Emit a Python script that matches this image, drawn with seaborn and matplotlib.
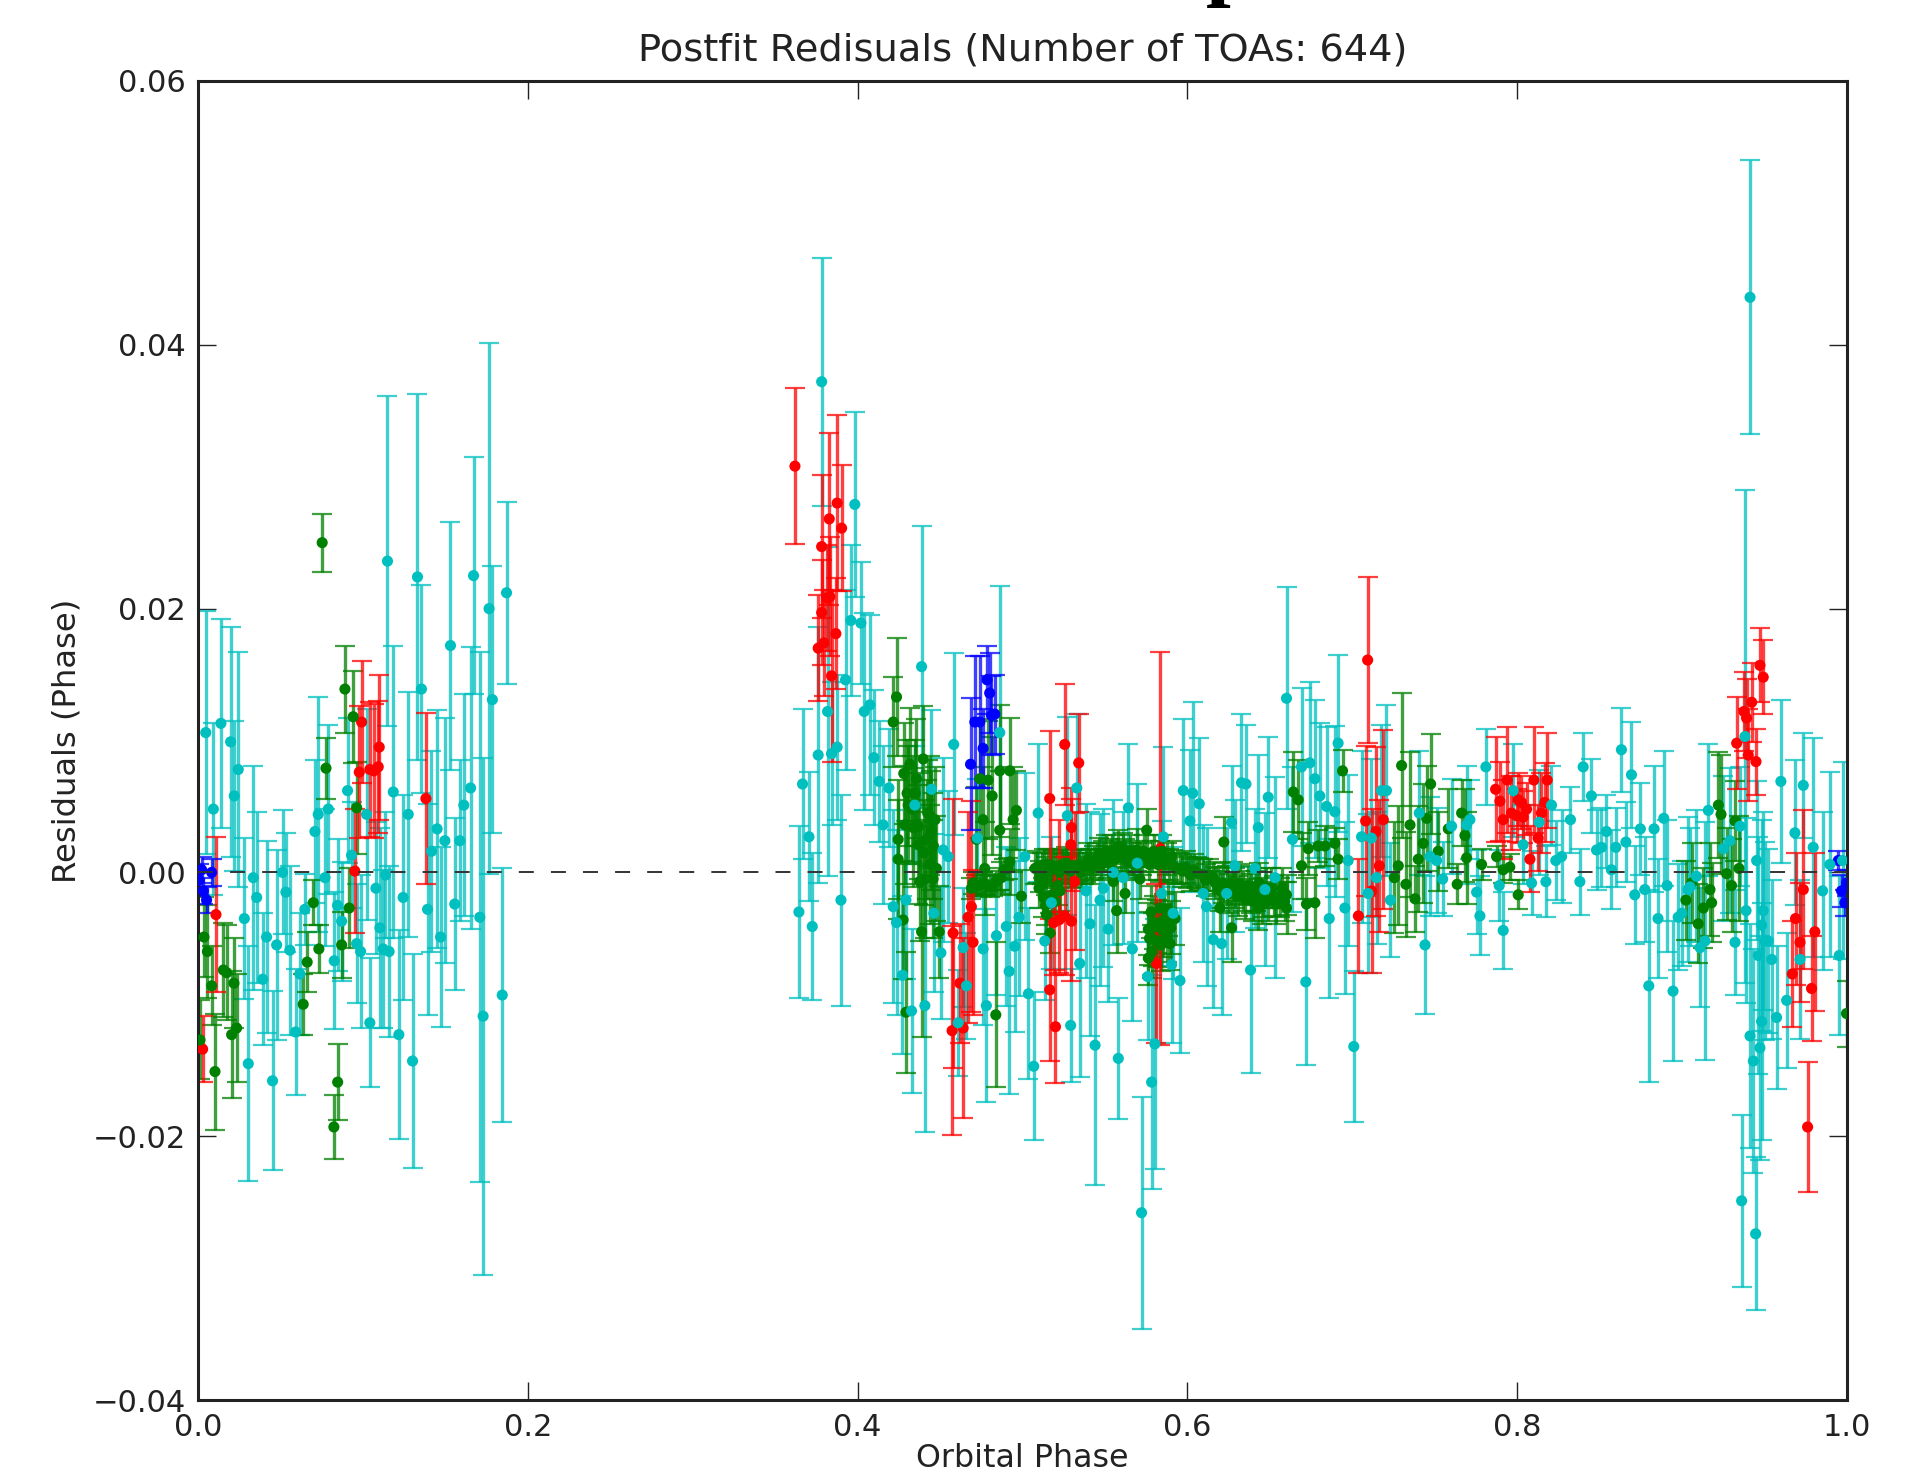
import pandas as pd
import matplotlib
matplotlib.use('Agg')
import matplotlib.pyplot as plt
import seaborn as sns

# values: (orbital phase, residual, error)
cyan_points = [
    (.0047,.0106,.0092),(.0139,.0113,.0079),(.0198,.0099,.0087),(.0244,.0078,.0089),(.0220,.0058,.0057),
    (.0093,.0048,.0065),(.0335,-.0004,.0085),(.0356,-.0019,.0065),(.0281,-.0035,.0061),(.0416,-.0049,.0073),
    (.0477,-.0055,.0072),(.0513,.0000,.0047),(.0533,-.0015,.0045),(.0392,-.0081,.0050),(.0452,-.0158,.0068),
    (.0305,-.0145,.0089),(.0557,-.0059,.0064),(.0648,-.0028,.0027),(.0618,-.0077,.0046),(.0592,-.0121,.0048),
    (.0709,.0031,.0054),(.0729,.0044,.0089),(.0790,.0048,.0064),(.0770,-.0004,.0052),(.0846,-.0025,.0050),
    (.0871,-.0037,.0045),(.0826,-.0067,.0052),(.0907,.0062,.0055),(.0931,.0013,.0040),(.0962,-.0054,.0045),
    (.0986,-.0060,.0058),(.1022,.0044,.0080),(.1079,-.0012,.0050),(.1103,-.0042,.0076),(.1042,-.0114,.0049),
    (.1123,-.0058,.0060),(.1159,-.0060,.0065),(.1137,-.0002,.0048),(.1149,.0236,.0125),(.1184,.0061,.0111),
    (.1244,-.0019,.0078),(.1218,-.0123,.0079),(.1275,.0044,.0093),(.1301,-.0143,.0081),(.1331,.0224,.0139),
    (.1355,.0139,.0079),(.1392,-.0028,.0080),(.1416,.0016,.0076),(.1450,.0033,.0090),(.1471,-.0049,.0068),
    (.1497,.0024,.0093),(.1531,.0172,.0094),(.1557,-.0024,.0065),(.1588,.0024,.0061),(.1612,.0051,.0084),
    (.1653,.0064,.0107),(.1671,.0225,.0090),(.1709,-.0034,.0201),(.1729,-.0109,.0196),(.1765,.0200,.0201),
    (.1785,.0131,.0101),(.1871,.0212,.0069),(.1845,-.0093,.0096),
    (.3782,.0372,.0094),(.3983,.0279,.0070),(.3666,.0067,.0057),(.3644,-.0030,.0065),(.3705,.0027,.0049),
    (.3725,-.0041,.0056),(.3761,.0089,.0097),(.3818,.0122,.0125),(.3842,.0090,.0054),(.3876,.0095,.0055),
    (.3899,-.0021,.0080),(.3927,.0146,.0068),(.3959,.0191,.0057),(.4020,.0189,.0046),(.4040,.0122,.0075),
    (.4074,.0127,.0068),(.4099,.0087,.0051),(.4131,.0069,.0046),(.4155,.0036,.0060),(.4190,.0064,.0045),
    (.4216,-.0026,.0073),(.4236,-.0038,.0070),(.4272,-.0078,.0060),(.4327,-.0105,.0062),(.4293,-.0021,.0060),
    (.4347,.0051,.0045),(.4388,.0156,.0107),(.4448,.0063,.0060),(.4408,-.0101,.0096),(.4462,-.0031,.0060),
    (.4505,-.0061,.0050),(.4519,.0017,.0070),(.4549,.0012,.0050),(.4583,.0097,.0069),(.4660,-.0086,.0040),
    (.4610,-.0114,.0040),(.4640,-.0057,.0045),(.4727,.0026,.0045),(.4761,-.0058,.0058),(.4781,-.0101,.0073),
    (.4842,-.0048,.0045),(.4862,.0106,.0111),(.4902,-.0041,.0060),(.4919,-.0075,.0093),(.4953,-.0056,.0065),
    (.4979,-.0034,.0060),(.5014,.0012,.0063),(.5036,-.0092,.0065),(.5068,-.0147,.0056),(.5095,.0045,.0052),
    (.5135,-.0052,.0045),(.5175,-.0023,.0050),(.5272,.0043,.0075),(.5292,-.0116,.0043),(.5329,.0064,.0056),
    (.5347,-.0069,.0086),(.5385,-.0014,.0066),(.5409,-.0039,.0085),(.5440,-.0131,.0106),(.5470,-.0021,.0065),
    (.5490,-.0012,.0060),(.5520,-.0043,.0055),(.5551,.0000,.0055),(.5581,-.0141,.0046),(.5611,-.0004,.0050),
    (.5642,.0049,.0048),(.5666,-.0058,.0055),(.5696,.0007,.0060),(.5722,-.0258,.0088),(.5759,-.0079,.0048),
    (.5783,-.0159,.0081),(.5803,-.0130,.0095),(.5844,-.0016,.0055),(.5854,.0027,.0068),(.5904,-.0070,.0059),
    (.5914,-.0031,.0050),(.5955,-.0082,.0055),(.5975,.0062,.0054),(.6032,.0060,.0069),(.6072,.0052,.0050),
    (.6015,.0039,.0054),(.6096,-.0016,.0052),(.6116,-.0026,.0060),(.6157,-.0051,.0052),(.6207,-.0054,.0054),
    (.6268,.0038,.0043),(.6238,-.0016,.0050),(.6288,.0005,.0050),(.6328,.0068,.0052),(.6355,.0067,.0045),
    (.6430,.0034,.0055),(.6383,-.0074,.0078),(.6409,.0003,.0045),(.6490,.0057,.0046),(.6470,-.0013,.0058),
    (.6531,-.0004,.0076),(.6601,.0132,.0084),(.6637,.0025,.0055),(.6692,.0080,.0060),(.6742,.0083,.0061),
    (.6773,.0071,.0060),(.6803,.0058,.0055),(.6718,-.0083,.0063),(.6844,.0050,.0060),(.6860,-.0035,.0060),
    (.6894,.0046,.0065),(.6914,.0098,.0067),(.6955,-.0027,.0065),(.6975,.0009,.0065),(.7009,-.0132,.0057),
    (.7056,.0027,.0065),(.7096,-.0016,.0060),(.7116,.0026,.0060),(.7147,-.0004,.0050),(.7177,.0062,.0050),
    (.7207,.0062,.0065),(.7231,-.0021,.0043),(.7406,.0045,.0047),(.7441,-.0055,.0052),(.7471,.0012,.0045),
    (.7511,.0009,.0040),(.7548,-.0005,.0028),(.7602,.0035,.0036),(.7693,.0036,.0045),(.7713,.0040,.0030),
    (.7754,-.0015,.0032),(.7774,-.0033,.0030),(.7810,.0080,.0029),(.7891,-.0010,.0027),(.7915,-.0044,.0029),
    (.7976,.0062,.0035),(.8036,.0021,.0030),(.8087,-.0008,.0024),(.8133,.0038,.0040),(.8174,-.0007,.0027),
    (.8208,.0051,.0030),(.8234,.0009,.0030),(.8269,.0012,.0035),(.8323,.0040,.0025),(.8380,-.0007,.0025),
    (.8400,.0080,.0026),(.8450,.0058,.0028),(.8481,.0017,.0030),(.8511,.0019,.0030),(.8541,.0031,.0028),
    (.8571,.0002,.0030),(.8598,.0019,.0030),(.8632,.0093,.0032),(.8659,.0023,.0030),(.8693,.0074,.0040),
    (.8713,-.0017,.0037),(.8747,.0033,.0035),(.8774,-.0013,.0040),(.8798,-.0086,.0073),(.8830,.0033,.0048),
    (.8854,-.0035,.0045),(.8889,.0041,.0051),(.8909,-.0010,.0050),(.8945,-.0090,.0053),(.8976,-.0034,.0040),
    (.8998,-.0031,.0040),(.9036,-.0013,.0055),(.9048,-.0011,.0045),(.9087,-.0003,.0050),(.9109,-.0057,.0045),
    (.9139,-.0052,.0090),(.9159,.0047,.0050),(.9250,.0018,.0055),(.9290,.0024,.0055),(.9321,-.0053,.0040),
    (.9351,.0035,.0045),(.9412,.0436,.0104),(.9381,.0103,.0187),(.9361,-.0249,.0065),(.9446,-.0274,.0058),
    (.9599,.0069,.0062),(.9735,.0066,.0040),(.9795,.0019,.0083),(.9715,-.0066,.0060),(.9634,-.0097,.0051),
    (.9573,-.0110,.0054),(.9684,.0030,.0055),(.9852,-.0014,.0060),(.9896,.0006,.0070),(.9953,-.0063,.0060),
    (.9973,.0009,.0075),(.9388,-.0029,.0070),(.9412,-.0124,.0085),(.9432,-.0143,.0085),(.9462,-.0063,.0090),
    (.9482,-.0113,.0090),(.9472,-.0133,.0085),(.9492,-.0029,.0075),(.9502,-.0052,.0075),(.9523,-.0052,.0070),
    (.9543,-.0066,.0060),(.9452,.0009,.0060),(.9482,-.0040,.0080),
]
green_points = [
    (.0753,.0250,.0022),(.0891,.0139,.0033),(.0776,.0079,.0023),(.0941,.0118,.0035),(.0962,.0049,.0035),
    (.0917,-.0027,.0030),(.0871,-.0055,.0025),(.0699,-.0023,.0017),(.0662,-.0068,.0023),(.0638,-.0100,.0023),
    (.0733,-.0058,.0018),(.0847,-.0159,.0029),(.0824,-.0193,.0024),(.0036,-.0049,.0030),(.0057,-.0060,.0035),
    (.0083,-.0086,.0030),(.0103,-.0151,.0044),(.0154,-.0074,.0036),(.0174,-.0076,.0036),(.0204,-.0123,.0048),
    (.0218,-.0084,.0034),(.0234,-.0118,.0041),(.0012,-.0127,.0030),
    (.4236,.0133,.0045),(.4216,.0114,.0034),(.4280,.0075,.0038),(.4317,.0082,.0043),(.4398,.0086,.0040),
    (.4286,.0036,.0045),(.4337,.0034,.0045),(.4307,.0051,.0045),(.4357,.0071,.0045),(.4438,.0043,.0045),
    (.4448,.0032,.0045),(.4418,.0025,.0045),(.4367,.0021,.0045),(.4438,.0006,.0045),(.4246,.0010,.0045),
    (.4246,.0025,.0045),(.4377,-.0007,.0045),(.4408,-.0005,.0045),(.4495,-.0045,.0035),(.4276,-.0036,.0045),
    (.4458,-.0005,.0045),(.4478,.0003,.0040),(.4293,-.0106,.0046),(.4388,-.0045,.0080),
    (.4771,.0003,.0035),(.4690,-.0012,.0008),(.4741,-.0010,.0008),(.4822,-.0010,.0008),(.4872,-.0004,.0012),
    (.4923,.0008,.0025),(.4741,.0071,.0045),(.4792,.0070,.0045),(.4816,.0058,.0045),(.4862,.0032,.0045),
    (.4862,.0077,.0050),(.4923,.0077,.0040),(.4963,.0047,.0030),(.4943,.0040,.0040),(.4993,-.0018,.0020),
    (.4838,-.0108,.0055),(.4721,.0025,.0040),(.4761,.0040,.0040),
    (.5076,.0003,.0012),(.5117,.0003,.0012),(.5157,.0006,.0012),(.5197,.0003,.0012),(.5238,.0006,.0012),
    (.5278,.0003,.0012),(.5329,.0003,.0012),(.5369,.0003,.0012),(.5409,.0006,.0012),(.5450,.0010,.0012),
    (.5490,.0012,.0012),(.5531,.0013,.0012),(.5581,.0020,.0012),(.5622,.0013,.0012),(.5662,.0010,.0012),
    (.5692,.0017,.0016),(.5753,.0032,.0016),(.5723,.0010,.0012),(.5783,.0012,.0012),(.5834,.0012,.0012),
    (.5874,.0010,.0012),(.5914,.0005,.0012),(.5955,.0003,.0012),(.6005,.0000,.0012),(.6056,.0000,.0012),
    (.6096,-.0002,.0012),(.6157,-.0004,.0012),(.6187,-.0012,.0015),(.6238,-.0010,.0015),(.6278,-.0007,.0015),
    (.6318,-.0009,.0015),(.6369,-.0010,.0015),(.6419,-.0014,.0015),(.6460,-.0019,.0015),(.6510,-.0012,.0015),
    (.6561,-.0019,.0015),(.6601,-.0017,.0015),(.6197,-.0027,.0018),(.6268,-.0042,.0026),(.6221,.0023,.0019),
    (.6430,-.0027,.0017),(.6601,-.0027,.0020),(.6642,.0061,.0030),(.6672,.0055,.0030),(.6692,.0005,.0025),
    (.6733,.0018,.0020),(.6793,.0020,.0012),(.6834,.0020,.0015),(.6894,.0022,.0012),(.6914,.0010,.0015),
    (.6722,-.0024,.0020),(.6773,-.0023,.0027),(.6941,.0077,.0016),
    (.5127,-.0019,.0015),(.5177,-.0017,.0015),(.5228,-.0014,.0015),(.5167,-.0046,.0015),(.5571,-.0029,.0032),
    (.5622,-.0016,.0015),(.5712,-.0005,.0015),(.5551,-.0007,.0015),(.5763,-.0043,.0020),(.5813,-.0041,.0020),
    (.5854,-.0044,.0020),(.5894,-.0054,.0020),(.5763,-.0065,.0020),(.5834,-.0027,.0020),(.5925,-.0035,.0020),
    (.5793,-.0051,.0020),
    (.7299,.0081,.0055),(.7475,.0067,.0038),(.7451,.0041,.0040),(.7350,.0036,.0055),(.7430,.0022,.0045),
    (.7400,.0010,.0040),(.7279,.0005,.0045),(.7255,-.0004,.0042),(.7325,-.0009,.0040),(.7380,-.0020,.0025),
    (.7521,.0016,.0030),(.7582,.0033,.0030),(.7663,.0045,.0025),(.7683,.0028,.0035),(.7693,.0011,.0035),
    (.7636,-.0009,.0015),(.7784,.0006,.0012),(.7875,.0012,.0008),(.7915,.0002,.0010),(.7955,.0004,.0010),
    (.8006,-.0017,.0011),(.9023,-.0021,.0030),(.9058,-.0008,.0030),(.9098,-.0039,.0030),(.9129,-.0027,.0030),
    (.9169,-.0013,.0035),(.9179,-.0023,.0030),(.9220,.0051,.0040),(.9236,.0044,.0045),(.9321,.0039,.0030),
    (.9345,.0003,.0040),(.9270,-.0001,.0035),(.9300,-.0010,.0035),(.9997,-.0107,.0025),
]
# the dense green band around the zero line, and the tight clumps next to it
green_band_points = [
    (.5090,.0004,.0012),(.5105,-.0003,.0012),(.5130,.0006,.0012),(.5145,.0000,.0012),(.5170,.0002,.0012),
    (.5185,.0005,.0012),(.5210,.0004,.0012),(.5225,.0000,.0012),(.5250,.0003,.0012),(.5265,.0007,.0012),
    (.5290,.0001,.0012),(.5305,.0005,.0012),(.5340,.0006,.0012),(.5355,.0000,.0012),(.5385,.0005,.0012),
    (.5400,.0010,.0012),(.5420,.0003,.0012),(.5435,.0008,.0012),(.5465,.0014,.0012),(.5478,.0006,.0012),
    (.5505,.0016,.0012),(.5520,.0008,.0012),(.5545,.0016,.0012),(.5560,.0010,.0012),(.5595,.0012,.0012),
    (.5610,.0018,.0012),(.5635,.0008,.0012),(.5650,.0016,.0012),(.5675,.0006,.0012),(.5705,.0012,.0012),
    (.5735,.0016,.0012),(.5770,.0006,.0012),(.5795,.0016,.0012),(.5820,.0006,.0012),(.5845,.0016,.0012),
    (.5860,.0006,.0012),(.5890,.0006,.0012),(.5905,.0012,.0012),(.5930,.0003,.0012),(.5970,.0001,.0012),
    (.5990,.0004,.0012),(.6020,-.0002,.0012),(.6040,.0002,.0012),(.6070,-.0001,.0012),(.6110,-.0006,.0012),
    (.6130,-.0002,.0012),(.6170,-.0008,.0012),(.6200,-.0014,.0015),(.6215,-.0008,.0015),(.6255,-.0016,.0015),
    (.6290,-.0012,.0015),(.6305,-.0018,.0015),(.6335,-.0014,.0015),(.6350,-.0020,.0015),(.6385,-.0016,.0015),
    (.6400,-.0022,.0015),(.6435,-.0008,.0015),(.6450,-.0024,.0015),(.6475,-.0012,.0015),(.6490,-.0022,.0015),
    (.6525,-.0018,.0015),(.6540,-.0024,.0015),(.6575,-.0012,.0015),(.6590,-.0022,.0015),
    (.5770,-.0050,.0020),(.5785,-.0060,.0020),(.5800,-.0038,.0020),(.5820,-.0052,.0020),(.5840,-.0055,.0020),
    (.5860,-.0036,.0020),(.5875,-.0048,.0020),(.5885,-.0028,.0020),(.5900,-.0042,.0020),(.5780,-.0030,.0020),
    (.5100,-.0012,.0015),(.5140,-.0025,.0015),(.5200,-.0022,.0015),(.5215,-.0010,.0015),(.5145,-.0032,.0015),
    (.4300,.0060,.0040),(.4330,.0048,.0040),(.4350,.0060,.0040),(.4370,.0035,.0040),(.4400,.0015,.0040),
    (.4425,.0045,.0040),(.4460,.0020,.0040),(.4470,.0040,.0040),
    (.4700,-.0008,.0008),(.4720,-.0010,.0008),(.4760,-.0008,.0008),(.4780,-.0009,.0008),(.4800,-.0011,.0008),
    (.4840,-.0007,.0008),(.4855,-.0005,.0008),(.4890,.0002,.0008),(.4910,.0003,.0008),
]
red_points = [
    (.0992,.0114,.0046),(.1099,.0095,.0055),(.1066,.0077,.0051),(.1042,.0078,.0051),(.1093,.0080,.0050),
    (.0978,.0076,.0050),(.0951,.0001,.0047),(.1382,.0056,.0065),(.0109,-.0032,.0059),(.0028,-.0134,.0025),
    (.3620,.0308,.0059),(.3782,.0247,.0054),(.3828,.0268,.0065),(.3876,.0280,.0067),(.3903,.0261,.0048),
    (.3761,.0170,.0040),(.3796,.0174,.0040),(.3782,.0197,.0040),(.3832,.0209,.0045),(.3868,.0181,.0042),
    (.3842,.0149,.0065),(.3812,.0208,.0040),(.4579,-.0046,.0102),(.4620,-.0084,.0045),(.4573,-.0120,.0079),
    (.4640,-.0118,.0068),(.4670,-.0034,.0080),(.4690,-.0026,.0080),(.4700,-.0053,.0055),
    (.5165,.0056,.0051),(.5256,.0097,.0046),(.5341,.0083,.0037),(.5297,.0034,.0030),(.5293,.0021,.0035),
    (.5222,.0005,.0035),(.5165,-.0089,.0054),(.5200,-.0117,.0043),(.5189,-.0038,.0040),(.5222,-.0036,.0040),
    (.5256,-.0033,.0045),(.5297,-.0037,.0045),(.5317,-.0007,.0052),(.5836,.0018,.0149),(.5812,-.0069,.0060),
    (.7093,.0161,.0063),(.7081,.0039,.0057),(.7144,.0031,.0064),(.7188,.0040,.0068),(.7164,.0005,.0050),
    (.7117,-.0014,.0062),(.7037,-.0033,.0043),(.7869,.0063,.0040),(.7939,.0070,.0040),(.8101,.0070,.0040),
    (.8182,.0070,.0036),(.7895,.0054,.0030),(.7915,.0040,.0030),(.7965,.0045,.0028),(.7996,.0043,.0020),
    (.8026,.0053,.0020),(.8057,.0048,.0020),(.8036,.0042,.0020),(.8006,.0055,.0020),(.8147,.0045,.0030),
    (.8167,.0053,.0030),(.8127,.0026,.0025),(.8077,.0010,.0025),
    (.9472,.0157,.0028),(.9492,.0148,.0028),(.9422,.0129,.0030),(.9391,.0117,.0030),(.9375,.0122,.0030),
    (.9331,.0098,.0035),(.9401,.0089,.0035),(.9448,.0084,.0025),(.9688,-.0035,.0050),(.9668,-.0077,.0040),
    (.9715,-.0053,.0045),(.9735,-.0013,.0060),(.9785,-.0088,.0040),(.9805,-.0045,.0060),(.9761,-.0193,.0049),
]
blue_points = [
    (.0083,.0000,.0010),(.0032,-.0014,.0010),(.0052,-.0021,.0010),(.0022,.0002,.0010),(.0008,-.0006,.0012),
    (.4685,.0082,.0050),(.4711,.0114,.0050),(.4741,.0114,.0050),(.4761,.0094,.0030),(.4785,.0146,.0026),
    (.4801,.0136,.0030),(.4832,.0120,.0030),(.4812,.0119,.0030),
    (.9947,.0009,.0007),(.9967,-.0014,.0012),(.9987,-.0023,.0010),(.9997,-.0008,.0010),
]
x_ticks = [0.0, 0.2, 0.4, 0.6, 0.8, 1.0]
y_ticks = [-0.04, -0.02, 0.00, 0.02, 0.04, 0.06]

series = {'c': cyan_points, 'g': green_points + green_band_points, 'r': red_points, 'b': blue_points}
colors = {'c': '#00BFBF', 'g': '#008000', 'r': '#FF0000', 'b': '#0000FF'}

rows = []
for name, pts in series.items():
    for p in pts:
        rows.append({'phase': p[0], 'res': p[1], 'err': p[2], 'band': name})
df = pd.DataFrame(rows)

sns.set_theme(style='ticks', rc={'axes.linewidth': 2.2, 'axes.edgecolor': '#222222'})
fig = plt.figure(figsize=(19.26, 14.71), dpi=100)
ax = fig.add_axes([198/1926, 1-1400/1471, 1649/1926, 1319/1471])

# error bars first, then the dots on top
for name in ['c', 'g', 'r', 'b']:
    sub = df[df['band'] == name]
    ax.errorbar(sub['phase'], sub['res'], yerr=sub['err'], fmt='none', ecolor=colors[name],
                elinewidth=2.4, capsize=7, capthick=1.6, alpha=0.75)

dots = pd.concat([df[df['band'] == n] for n in ['b', 'r', 'g', 'c']])
sns.scatterplot(data=dots, x='phase', y='res', hue='band', palette=colors, s=64, linewidth=0,
                legend=False, ax=ax, zorder=3)

# dashes lie over the dots in the reference
ax.axhline(0, color='#333333', lw=1.4, dashes=(7.7, 8.8), zorder=4)

ax.set_xlim(0, 1)
ax.set_ylim(-0.04, 0.06)
ax.set_xticks(x_ticks)
ax.set_yticks(y_ticks)
ax.set_xticklabels([f'{v:.1f}' for v in x_ticks])
ax.set_yticklabels([f'{v:.2f}'.replace('-', '\u2212') for v in y_ticks])
ax.tick_params(direction='in', length=13, width=1.0, top=True, right=True, labelsize=22, pad=9, colors='#222222')
ax.set_xlabel('Orbital Phase', fontsize=22.9, labelpad=1, color='#222222')
ax.set_ylabel('Residuals (Phase)', fontsize=23.2, labelpad=7, color='#222222')
ax.set_title('Postfit Redisuals (Number of TOAs: 644)', fontsize=27.6, pad=15, color='#222222')

# bottom of a big heading that is cut off by the top of the picture
fig.text(1231/1926, 1+11/1471, 'p', family='Liberation Serif', fontweight='bold', fontsize=64,
         ha='center', va='baseline', color='black')

fig.savefig('out.png', dpi=100)
